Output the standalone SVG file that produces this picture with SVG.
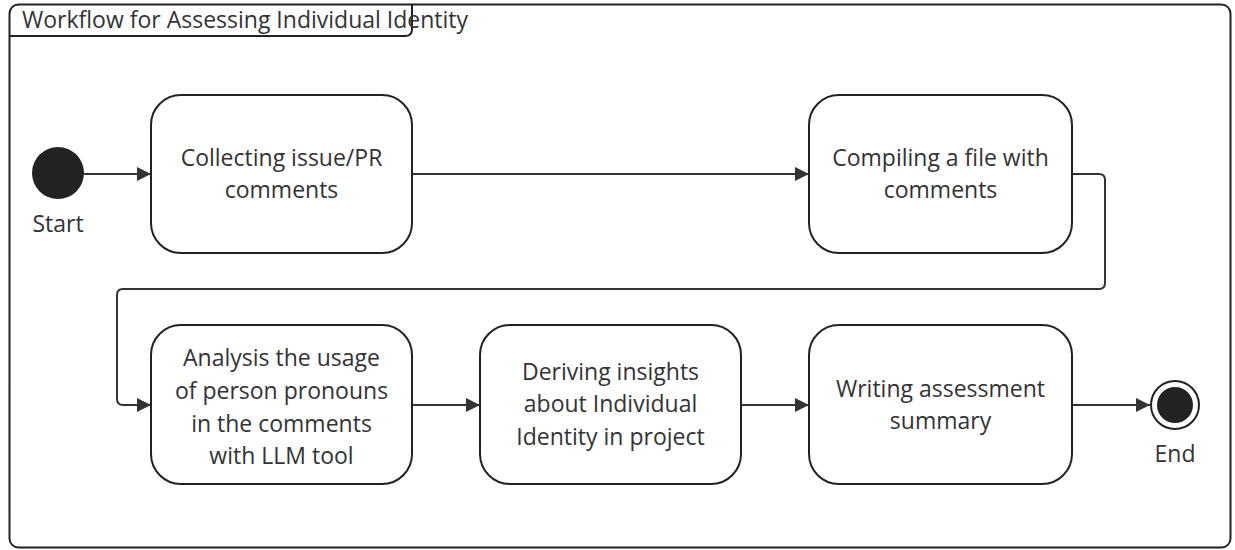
<svg xmlns="http://www.w3.org/2000/svg" width="1235" height="550" viewBox="0 0 1235 550">
<style>
.frame{fill:#fff;stroke:#222;stroke-width:2}
.box{fill:#fff;stroke:#222;stroke-width:2}
.lbl{font-family:"Open Sans","Noto Sans",sans-serif;font-size:23px;fill:#333;text-anchor:middle}
.title{font-family:"Open Sans","Noto Sans",sans-serif;font-size:23px;fill:#333}
.edge{fill:none;stroke:#333;stroke-width:2}
</style>
<defs>
<marker id="arr" viewBox="0 0 14 14" refX="14" refY="7" markerWidth="14" markerHeight="14" markerUnits="userSpaceOnUse" orient="auto">
<path d="M0,0 L14,7 L0,14 Z" fill="#333"/>
</marker>
</defs>
<g id="frame">
<rect class="frame" x="9.5" y="4.5" width="1221" height="543" rx="9"/>
<path class="edge" d="M9.5,36 L405,36 Q412,36 412,29 L412,4.5" style="stroke:#222"/>
<text class="title" x="22" y="28">Workflow for Assessing Individual Identity</text>
</g>
<g id="connectors">
<path class="edge" d="M84,174 L151,174" marker-end="url(#arr)"/>
<path class="edge" d="M412,174 L809,174" marker-end="url(#arr)"/>
<path class="edge" d="M1072,174 L1099,174 Q1105,174 1105,180 L1105,283 Q1105,289 1099,289 L123,289 Q117,289 117,295 L117,399 Q117,405 123,405 L151,405" marker-end="url(#arr)"/>
<path class="edge" d="M412,405 L480,405" marker-end="url(#arr)"/>
<path class="edge" d="M741,405 L809,405" marker-end="url(#arr)"/>
<path class="edge" d="M1072,405 L1150,405" marker-end="url(#arr)"/>
</g>
<g id="start">
<circle cx="58" cy="173" r="26" fill="#222"/>
<text class="lbl" x="58" y="232">Start</text>
</g>
<g id="n1">
<rect class="box" x="151" y="95" width="261" height="158" rx="30"/>
<text class="lbl" x="281.5" y="166">Collecting issue/PR</text>
<text class="lbl" x="281.5" y="198">comments</text>
</g>
<g id="n2">
<rect class="box" x="809" y="95" width="263" height="158" rx="30"/>
<text class="lbl" x="940.5" y="166">Compiling a file with</text>
<text class="lbl" x="940.5" y="198">comments</text>
</g>
<g id="n3">
<rect class="box" x="151" y="325" width="261" height="159" rx="30"/>
<text class="lbl" x="281.5" y="366">Analysis the usage</text>
<text class="lbl" x="281.5" y="399">of person pronouns</text>
<text class="lbl" x="281.5" y="432">in the comments</text>
<text class="lbl" x="281.5" y="464">with LLM tool</text>
</g>
<g id="n4">
<rect class="box" x="480" y="325" width="261" height="159" rx="30"/>
<text class="lbl" x="610.5" y="380">Deriving insights</text>
<text class="lbl" x="610.5" y="412">about Individual</text>
<text class="lbl" x="610.5" y="445">Identity in project</text>
</g>
<g id="n5">
<rect class="box" x="809" y="325" width="263" height="159" rx="30"/>
<text class="lbl" x="940.5" y="397">Writing assessment</text>
<text class="lbl" x="940.5" y="429">summary</text>
</g>
<g id="end">
<circle cx="1175" cy="405" r="24" fill="#fff" stroke="#222" stroke-width="2"/>
<circle cx="1175" cy="405" r="18" fill="#222"/>
<text class="lbl" x="1175" y="462">End</text>
</g>
</svg>
